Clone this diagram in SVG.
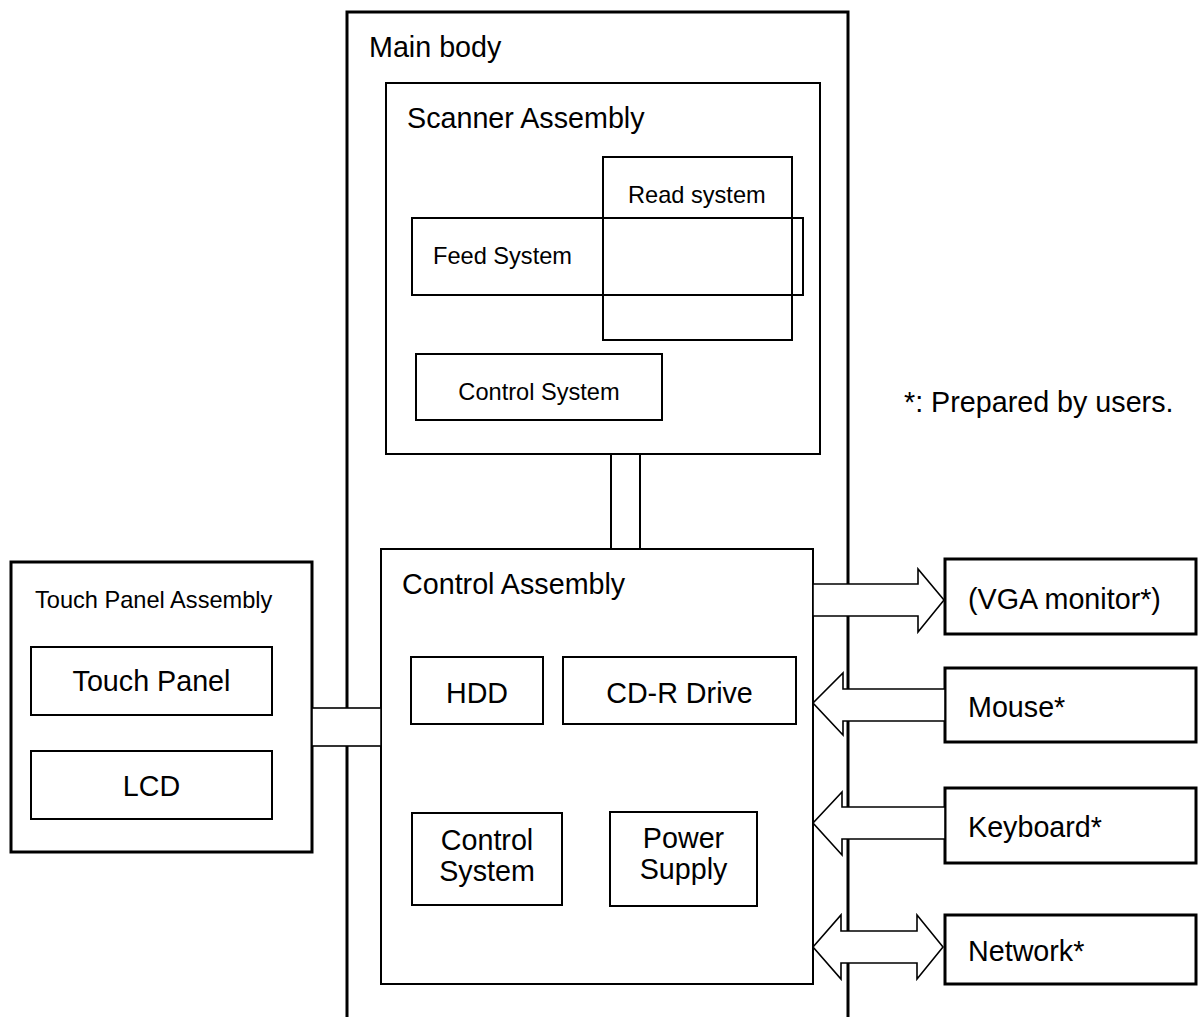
<svg xmlns="http://www.w3.org/2000/svg" width="1199" height="1017" viewBox="0 0 1199 1017">
  <style>
    text { font-family: "Liberation Sans", Arial, sans-serif; fill: #000; }
    .lg { font-size: 28.7px; }
    .sm { font-size: 23.6px; }
    .mid { text-anchor: middle; }
    .thick { fill: #fff; stroke: #000; stroke-width: 3; }
    .box { fill: #fff; stroke: #000; stroke-width: 2; }
    .open { fill: none; stroke: #000; stroke-width: 2; }
    .arrow { fill: #fff; stroke: #000; stroke-width: 1.6; stroke-linejoin: miter; }
  </style>

  <rect width="1199" height="1017" fill="#fff"/>

  <!-- Main body frame (open at the bottom) -->
  <g id="main-body">
    <path d="M347,1020 L347,12 L848,12 L848,1020" fill="none" stroke="#000" stroke-width="3"/>
    <text class="lg" x="369" y="57">Main body</text>
  </g>

  <!-- Scanner assembly and its subsystems -->
  <g id="scanner-assembly">
    <rect class="box" x="386" y="83" width="434" height="371" stroke-width="1.8"/>
    <text class="lg" x="407" y="128">Scanner Assembly</text>
  </g>
  <g id="read-system">
    <rect class="open" x="603" y="157" width="189" height="183"/>
    <text class="sm" x="628" y="203">Read system</text>
  </g>
  <g id="feed-system">
    <rect class="open" x="412" y="218" width="391" height="77"/>
    <text class="sm" x="433" y="264">Feed System</text>
  </g>
  <g id="scanner-control-system">
    <rect class="box" x="416" y="354" width="246" height="66"/>
    <text class="sm mid" x="539" y="400">Control System</text>
  </g>

  <!-- Control assembly and its units -->
  <g id="control-assembly">
    <rect class="box" x="381" y="549" width="432" height="435" stroke-width="1.8"/>
    <text class="lg" x="402" y="594">Control Assembly</text>
  </g>
  <g id="hdd">
    <rect class="box" x="411" y="657" width="132" height="67"/>
    <text class="lg mid" x="477" y="703">HDD</text>
  </g>
  <g id="cdr-drive">
    <rect class="box" x="563" y="657" width="233" height="67"/>
    <text class="lg mid" x="679.5" y="703">CD-R Drive</text>
  </g>
  <g id="control-system">
    <rect class="box" x="412" y="813" width="150" height="92"/>
    <text class="lg mid" x="487" y="850">Control</text>
    <text class="lg mid" x="487" y="881">System</text>
  </g>
  <g id="power-supply">
    <rect class="box" x="610" y="812" width="147" height="94"/>
    <text class="lg mid" x="683.5" y="848">Power</text>
    <text class="lg mid" x="683.5" y="879">Supply</text>
  </g>

  <!-- Touch panel assembly -->
  <g id="touch-panel-assembly">
    <rect class="thick" x="11" y="562" width="301" height="290"/>
    <text class="sm" x="35" y="608">Touch Panel Assembly</text>
  </g>
  <g id="touch-panel">
    <rect class="box" x="31" y="647" width="241" height="68"/>
    <text class="lg mid" x="151.5" y="691">Touch Panel</text>
  </g>
  <g id="lcd">
    <rect class="box" x="31" y="751" width="241" height="68"/>
    <text class="lg mid" x="151.5" y="796">LCD</text>
  </g>

  <!-- External devices -->
  <g id="vga-monitor">
    <rect class="thick" x="945" y="559" width="251" height="75"/>
    <text class="lg" x="968" y="609">(VGA monitor*)</text>
  </g>
  <g id="mouse">
    <rect class="thick" x="945" y="668" width="251" height="74"/>
    <text class="lg" x="968" y="717">Mouse*</text>
  </g>
  <g id="keyboard">
    <rect class="thick" x="945" y="788" width="251" height="75"/>
    <text class="lg" x="968" y="837">Keyboard*</text>
  </g>
  <g id="network">
    <rect class="thick" x="945" y="915" width="251" height="69"/>
    <text class="lg" x="968" y="961">Network*</text>
  </g>

  <g id="note">
    <text class="lg" x="904" y="412">*: Prepared by users.</text>
  </g>

  <!-- Connectors: buses and block arrows -->
  <g id="connectors">
    <rect class="box" x="611" y="454" width="29" height="95" stroke-width="1.8"/>
    <rect class="arrow" x="312" y="708" width="69" height="38"/>
    <polygon class="arrow" points="813,584 918,584 918,569 944,600 918,632 918,616 813,616"/>
    <polygon class="arrow" points="945,689 843,689 843,673 813,703 843,735 843,721 945,721"/>
    <polygon class="arrow" points="945,807 842,807 842,792 813,823 842,855 842,839 945,839"/>
    <polygon class="arrow" points="813,947 841,915 841,931 917,931 917,915 943,947 917,979 917,963 841,963 841,979"/>
  </g>
</svg>
